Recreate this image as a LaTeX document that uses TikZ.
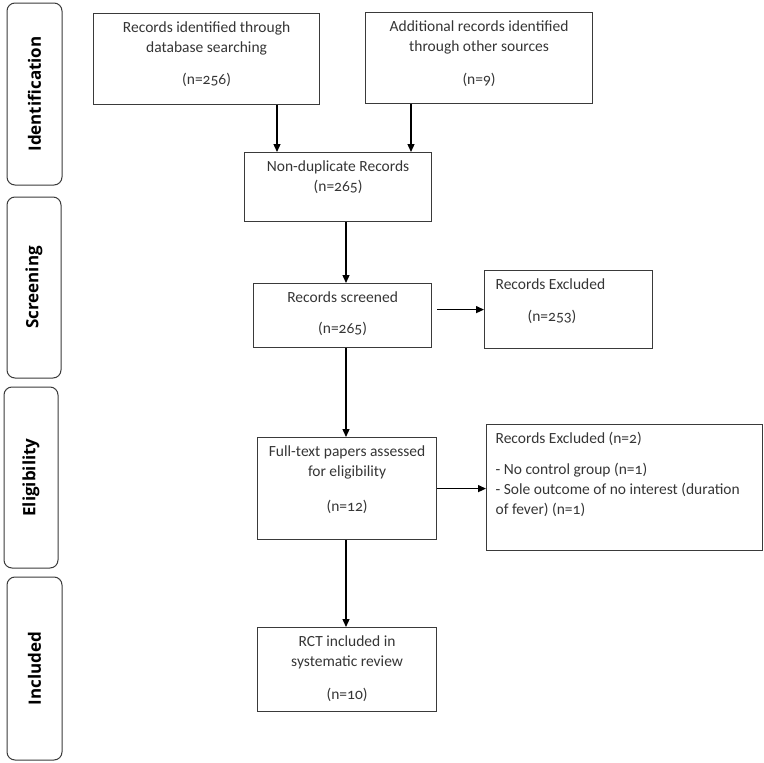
\documentclass[tikz,border=0pt]{standalone}
\usepackage{fontspec}
\setmainfont[Numbers=OldStyle]{Carlito}
\newfontfamily\sidefont{Open Sans}
\usepackage{xcolor}
\usetikzlibrary{arrows.meta}

\definecolor{boxgray}{HTML}{3A3A3A}
\definecolor{txtgray}{HTML}{353535}

% text of a box, set from its top
\newcommand{\boxtext}[4][\centering]{\parbox[c][#3][t]{#2}{#1\rule{0pt}{18.5pt}#4}}

\begin{document}
\begin{tikzpicture}[x=1pt,y=-1pt,
    box/.style={draw=boxgray, line width=1.2pt, inner sep=0pt, anchor=north west,
        text=txtgray, font=\fontsize{15.5}{20}\selectfont},
    side/.style={draw=boxgray, line width=1pt, rounded corners=8pt, rotate=90,
        inner sep=0pt, font=\sidefont\bfseries\fontsize{17}{20}\selectfont},
    arr/.style={line width=1.3pt, -{Triangle[length=8pt,width=7pt]}}]
             \useasboundingbox (0,0) rectangle (764,763);

             \node[side, minimum width=182pt, minimum height=55pt] (ident) at (34.5, 94) {Identification};
             \node[side, minimum width=181pt, minimum height=54pt] (screen) at (34, 287.5) {Screening};
             \node[side, minimum width=181pt, minimum height=54pt] (elig) at (31, 477.5) {Eligibility};
             \node[side, minimum width=183pt, minimum height=55pt] (incl) at (34.5, 668.5) {Included};

             \node[box] (dbrec) at (93, 13) {\boxtext{226pt}{91pt}{Records identified through\\database searching\\[12pt](n=256)}};
             \node[box] (addrec) at (365, 12) {\boxtext{227pt}{91pt}{Additional records identified\\through other sources\\[13pt](n=9)}};
             \node[box] (nondup) at (244, 152) {\boxtext{187pt}{69pt}{Non-duplicate Records\\(n=265)}};
             \node[box] (screened) at (253, 283) {\boxtext{178pt}{64pt}{Records screened\\[11pt](n=265)}};
             \node[box] (excl1) at (484, 270) {\boxtext[\raggedright\leftskip=11pt]{168pt}{78pt}{Records Excluded\\[12pt]\hspace*{32pt}(n=253)}};
             \node[box] (fulltext) at (257, 437) {\boxtext{179pt}{102pt}{Full-text papers assessed\\for eligibility\\[15pt](n=12)}};
             \node[box] (excl2) at (486, 424) {\boxtext[\raggedright\leftskip=9pt]{276pt}{126pt}{Records Excluded (n=2)\\[11pt]- No control group (n=1)\\- Sole outcome of no interest (duration\\of fever) (n=1)}};
             \node[box] (rct) at (257, 627) {\boxtext{179pt}{84pt}{RCT included in\\systematic review\\[13pt](n=10)}};

             \coordinate (xa) at (277, 0);
             \coordinate (xb) at (411, 0);
             \coordinate (xs) at (346, 0);

             \draw[arr] (xa |- dbrec.south) -- (xa |- nondup.north);
             \draw[arr] (xb |- addrec.south) -- (xb |- nondup.north);
             \draw[arr] (xs |- nondup.south) -- (xs |- screened.north);
             \draw[arr] (xs |- screened.south) -- (xs |- fulltext.north);
             \draw[arr] (xs |- fulltext.south) -- (xs |- rct.north);
             \draw[arr] ([xshift=5pt]screened.east |- excl1.west) -- (excl1.west);
             \draw[arr] (fulltext.east) -- (fulltext.east -| excl2.west);
             \end{tikzpicture}
\end{document}
